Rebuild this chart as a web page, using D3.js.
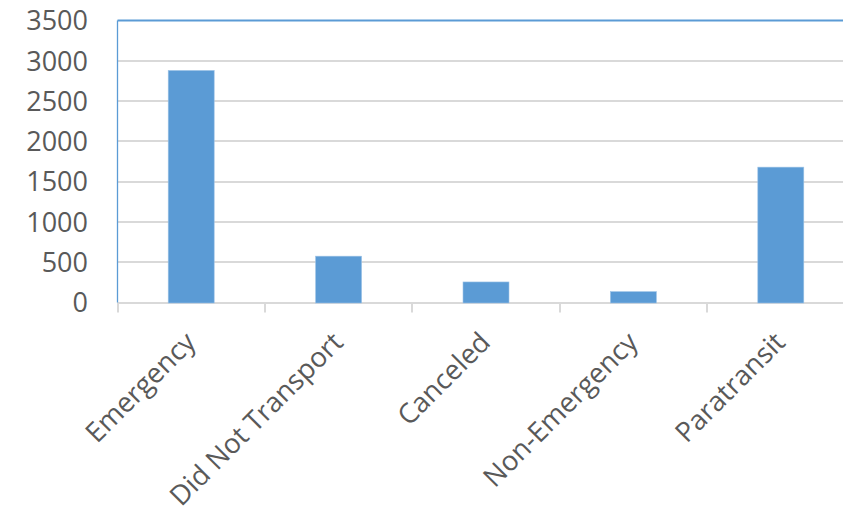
<!DOCTYPE html>
<html>
<head>
<meta charset="utf-8">
<script src="https://cdn.jsdelivr.net/npm/d3@7"></script>
<style>
  html, body { margin: 0; padding: 0; background: #ffffff; }
  svg { display: block; }
  text { font-family: "Open Sans", sans-serif; fill: #595959; }
</style>
</head>
<body>
<svg id="chart" width="843" height="509"></svg>
<script>
const categories = ["Emergency", "Did Not Transport", "Canceled", "Non-Emergency", "Paratransit"];
const values = [2880, 575, 255, 135, 1680];
const yTicks = [0, 500, 1000, 1500, 2000, 2500, 3000, 3500];

const svg = d3.select("#chart");
const plotLeft = 117.5, plotRight = 854.5, plotTop = 20.5, plotBottom = 302.5;

const x = d3.scaleBand().domain(categories).range([plotLeft, plotRight])
  .paddingInner(0.688).paddingOuter(0.344);
const y = d3.scaleLinear().domain([0, 3500]).range([plotBottom, plotTop]);
const step = x.step();

// gridlines
svg.append("g").selectAll("line").data(yTicks.filter(d => d < 3500)).join("line")
  .attr("x1", plotLeft).attr("x2", 843)
  .attr("y1", d => Math.round(y(d))).attr("y2", d => Math.round(y(d)))
  .attr("stroke", "#d9d9d9").attr("stroke-width", 2);

// category tick marks
svg.append("g").selectAll("line").data(categories).join("line")
  .attr("x1", (d, i) => Math.round(plotLeft + i * step)).attr("x2", (d, i) => Math.round(plotLeft + i * step))
  .attr("y1", plotBottom).attr("y2", plotBottom + 10)
  .attr("stroke", "#d9d9d9").attr("stroke-width", 2);

// bars
svg.append("g").selectAll("rect").data(values).join("rect")
  .attr("x", (d, i) => x(categories[i]))
  .attr("width", x.bandwidth())
  .attr("y", d => y(d))
  .attr("height", d => Math.round(y(0)) - y(d))
  .attr("fill", "#5b9bd5")
  .attr("stroke", "#9dc3e6").attr("stroke-width", 0.6);

// plot border top & left (blue)
svg.append("line").attr("x1", plotLeft).attr("x2", 843).attr("y1", plotTop).attr("y2", plotTop)
  .attr("stroke", "#5b9bd5").attr("stroke-width", 2);
svg.append("line").attr("x1", plotLeft).attr("x2", plotLeft).attr("y1", plotTop).attr("y2", plotBottom)
  .attr("stroke", "#5b9bd5").attr("stroke-width", 1.3);

// y-axis labels
svg.append("g").selectAll("text").data(yTicks).join("text")
  .attr("x", 88).attr("y", d => y(d))
  .attr("dy", "0.36em")
  .attr("text-anchor", "end")
  .style("font-size", "27px")
  .text(d => d);

// category labels
svg.append("g").selectAll("text").data(categories).join("text")
  .attr("text-anchor", "end")
  .style("font-size", "27.5px")
  .attr("transform", d => `translate(${x(d) + x.bandwidth() / 2 + 6},${344}) rotate(-45)`)
  .text(d => d);
</script>
</body>
</html>
